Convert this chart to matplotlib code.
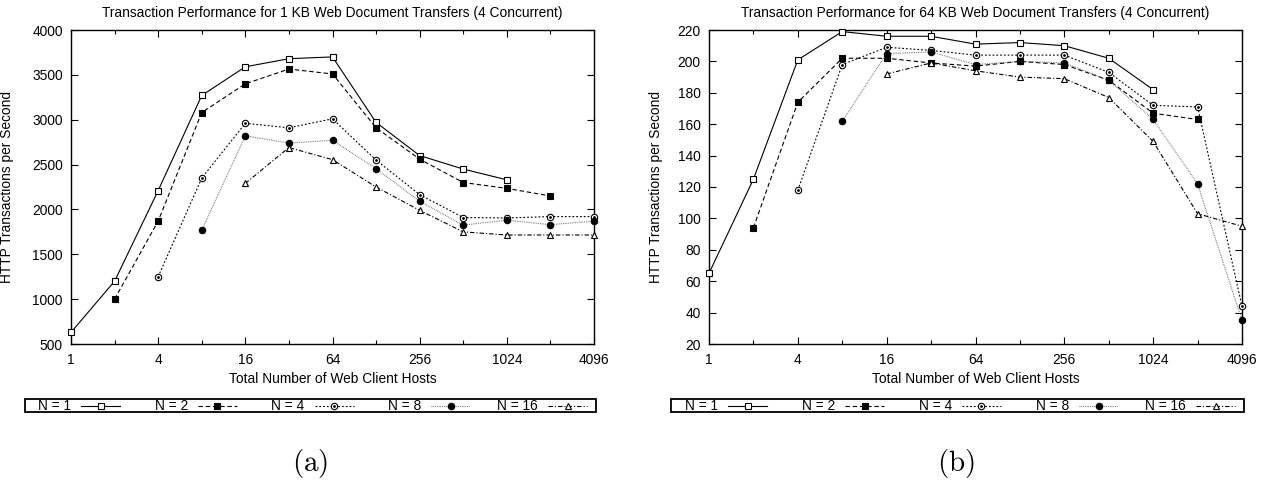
import matplotlib
matplotlib.use("Agg")
import matplotlib.pyplot as plt
from matplotlib.ticker import FixedLocator, NullFormatter
from matplotlib.lines import Line2D
from matplotlib.patches import Rectangle

plt.rcParams['font.family'] = ['Liberation Sans', 'DejaVu Sans']
plt.rcParams['mathtext.fontset'] = 'cm'

major_ticks = [1, 4, 16, 64, 256, 1024, 4096]
minor_ticks = [2, 8, 32, 128, 512, 2048]
labels = ["N = 1", "N = 2", "N = 4", "N = 8", "N = 16"]

# Panel (a): 1 KB transfers
a_n1_x = [1, 2, 4, 8, 16, 32, 64, 128, 256, 512, 1024]
a_n1_y = [630, 1200, 2210, 3270, 3590, 3680, 3700, 2970, 2600, 2450, 2330]
a_n2_x = [2, 4, 8, 16, 32, 64, 128, 256, 512, 1024, 2048]
a_n2_y = [1000, 1870, 3080, 3400, 3565, 3510, 2910, 2560, 2300, 2235, 2150]
a_n4_x = [4, 8, 16, 32, 64, 128, 256, 512, 1024, 2048, 4096]
a_n4_y = [1250, 2350, 2960, 2910, 3010, 2550, 2165, 1910, 1905, 1920, 1920]
a_n8_x = [8, 16, 32, 64, 128, 256, 512, 1024, 2048, 4096]
a_n8_y = [1770, 2820, 2740, 2770, 2455, 2090, 1825, 1880, 1830, 1870]
a_n16_x = [16, 32, 64, 128, 256, 512, 1024, 2048, 4096]
a_n16_y = [2290, 2690, 2555, 2250, 1990, 1750, 1715, 1715, 1715]

# Panel (b): 64 KB transfers
b_n1_x = [1, 2, 4, 8, 16, 32, 64, 128, 256, 512, 1024]
b_n1_y = [65, 125, 201, 219, 216, 216, 211, 212, 210, 202, 182]
b_n2_x = [2, 4, 8, 16, 32, 64, 128, 256, 512, 1024, 2048]
b_n2_y = [94, 174, 202, 202, 199, 197, 200, 198, 188, 167, 163]
b_n4_x = [4, 8, 16, 32, 64, 128, 256, 512, 1024, 2048, 4096]
b_n4_y = [118, 198, 209, 207, 204, 204, 204, 193, 172, 171, 44]
b_n8_x = [8, 16, 32, 64, 128, 256, 512, 1024, 2048, 4096]
b_n8_y = [162, 205, 206, 198, 200, 199, 188, 163, 122, 35]
b_n16_x = [16, 32, 64, 128, 256, 512, 1024, 2048, 4096]
b_n16_y = [192, 199, 194, 190, 189, 177, 149, 103, 95]

styles = [
    dict(color='black', linestyle='-', marker='s', mfc='white', mec='black', ms=4.6),
    dict(color='black', linestyle=(0, (4, 2.5)), marker='s', mfc='black', mec='black', ms=5.0),
    dict(color='black', linestyle=(0, (1.6, 1.8)), marker='o', mfc='white', mec='black', ms=4.6),
    dict(color='#666666', linestyle=(0, (0.7, 0.9)), marker='o', mfc='black', mec='black', ms=4.6),
    dict(color='black', linestyle=(0, (4, 1.8, 1, 1.8)), marker='^', mfc='white', mec='black', ms=5.0),
]

FS = 9.9
fig = plt.figure(figsize=(12.69, 4.8), dpi=100)
W, H = 1269, 480

def axes_px(l, r, t, b):
    return fig.add_axes([l / W, 1 - b / H, (r - l) / W, (b - t) / H])

ax_a = axes_px(71, 594, 30, 344)
ax_b = axes_px(709, 1242, 30, 344)

panels = [
    (ax_a, [(a_n1_x, a_n1_y), (a_n2_x, a_n2_y), (a_n4_x, a_n4_y), (a_n8_x, a_n8_y), (a_n16_x, a_n16_y)],
     "Transaction Performance for 1 KB Web Document Transfers (4 Concurrent)", (500, 4000),
     list(range(500, 4001, 500)), -0.109),
    (ax_b, [(b_n1_x, b_n1_y), (b_n2_x, b_n2_y), (b_n4_x, b_n4_y), (b_n8_x, b_n8_y), (b_n16_x, b_n16_y)],
     "Transaction Performance for 64 KB Web Document Transfers (4 Concurrent)", (20, 220),
     list(range(20, 221, 20)), -0.086),
]

for ax, series, title, ylim, yticks, ylab_x in panels:
    for i, ((xs, ys), st) in enumerate(zip(series, styles)):
        ax.plot(xs, ys, lw=0.8, mew=0.8, clip_on=False, zorder=3, **st)
        if i == 2:
            ax.plot(xs, ys, linestyle='none', marker='o', ms=1.0, color='black', clip_on=False, zorder=4)
    ax.set_xscale('log', base=2)
    ax.set_xlim(1, 4096)
    ax.set_ylim(*ylim)
    ax.xaxis.set_major_locator(FixedLocator(major_ticks))
    ax.set_xticklabels([str(v) for v in major_ticks])
    ax.xaxis.set_minor_locator(FixedLocator(minor_ticks))
    ax.xaxis.set_minor_formatter(NullFormatter())
    ax.set_yticks(yticks)
    ax.tick_params(which='both', direction='in', top=True, right=True, labelsize=FS, width=0.8)
    ax.tick_params(which='major', length=5)
    ax.tick_params(which='minor', length=3)
    ax.tick_params(axis='x', which='major', pad=6.5)
    ax.tick_params(axis='y', which='major', pad=6)
    ax.set_title(title, fontsize=FS, pad=9)
    ax.set_xlabel("Total Number of Web Client Hosts", fontsize=FS)
    ax.xaxis.set_label_coords(0.5, -0.088)
    ax.set_ylabel("HTTP Transactions per Second", fontsize=FS)
    ax.yaxis.set_label_coords(ylab_x, 0.5)
    for s in ax.spines.values():
        s.set_linewidth(1.0)

def draw_legend(box_l, box_r, first_end, step, hlen=39, t=399, b=412):
    fig.add_artist(Rectangle((box_l / W, 1 - b / H), (box_r - box_l) / W, (b - t) / H,
                             transform=fig.transFigure, fill=False, edgecolor='black', lw=1.3))
    yc = 1 - (t + b) / 2 / H
    for i, (lab, st) in enumerate(zip(labels, styles)):
        x1 = first_end + i * step
        x0 = x1 - hlen
        ln = Line2D([x0 / W, x1 / W], [yc, yc], transform=fig.transFigure,
                    color=st['color'], linestyle=st['linestyle'], lw=0.8)
        fig.add_artist(ln)
        mk = Line2D([(x0 + x1) / 2 / W], [yc], transform=fig.transFigure,
                    marker=st['marker'], mfc=st['mfc'], mec=st['mec'], ms=st['ms'], mew=0.8,
                    linestyle='none')
        fig.add_artist(mk)
        if i == 2:
            fig.add_artist(Line2D([(x0 + x1) / 2 / W], [yc], transform=fig.transFigure,
                                  marker='o', ms=1.0, color='black', linestyle='none'))
        fig.text((x0 - 10) / W, yc, lab, ha='right', va='center', fontsize=FS)

draw_legend(25, 596, 120, 116.8)
draw_legend(671, 1244, 767, 117)

fig.text(310 / W, 1 - 463 / H, r'$\mathrm{(a)}$', ha='center', va='center', fontsize=21)
fig.text(956 / W, 1 - 463 / H, r'$\mathrm{(b)}$', ha='center', va='center', fontsize=21)

fig.savefig("out.png", dpi=100)
